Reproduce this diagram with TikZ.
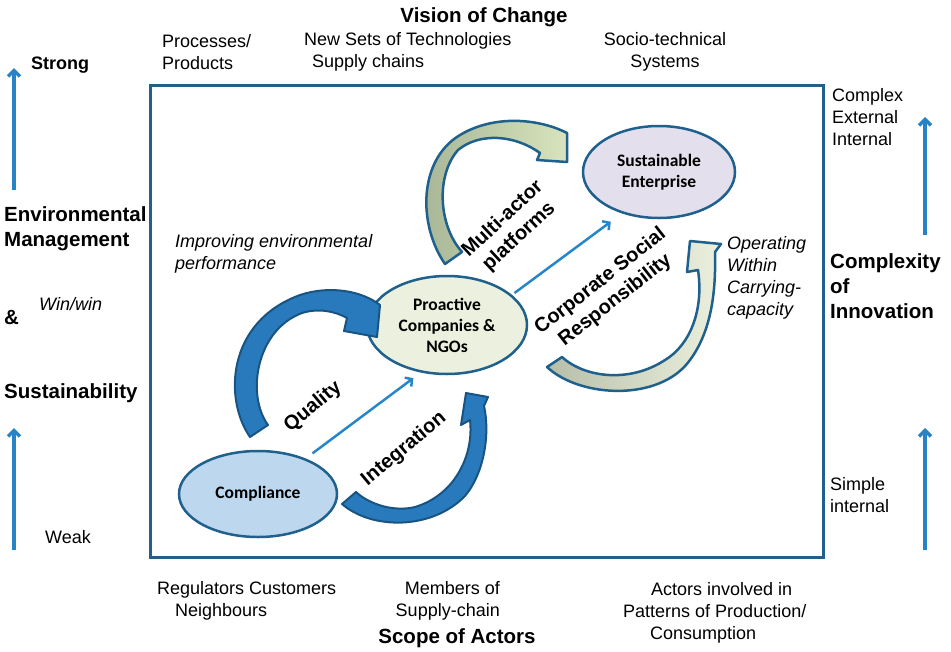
\documentclass[tikz,border=0pt]{standalone}
\usepackage{fontspec}
\setmainfont{Liberation Sans}
\newfontfamily\calibri{Carlito}
\usetikzlibrary{positioning,arrows.meta,shapes.geometric}

\definecolor{framecol}{RGB}{31,96,141}
\definecolor{axiscol}{RGB}{40,130,195}
\definecolor{linkcol}{RGB}{38,134,200}
\definecolor{bluefill}{RGB}{40,122,188}
\definecolor{blueline}{RGB}{24,84,130}
\definecolor{compfill}{RGB}{189,215,238}
\definecolor{profill}{RGB}{235,241,222}
\definecolor{susfill}{RGB}{228,223,236}
\definecolor{greenlight}{RGB}{215,228,189}
\definecolor{greendark}{RGB}{166,181,150}
\definecolor{csrlight}{RGB}{235,241,222}
\definecolor{csrdark}{RGB}{183,190,168}

\tikzset{
  txt/.style={inner sep=0pt, font=\fontsize{18}{22}\selectfont},
  itxt/.style={inner sep=0pt, font=\itshape\fontsize{18}{22}\selectfont},
  btxt/.style={inner sep=0pt, font=\bfseries\fontsize{18}{22}\selectfont},
  head/.style={inner sep=0pt, font=\bfseries\fontsize{20.5}{25}\selectfont},
  rot/.style={inner sep=0pt, font=\bfseries\fontsize{20}{24}\selectfont},
  state/.style={ellipse, draw=framecol, line width=2.5pt, align=center,
    inner sep=0pt, font=\calibri\bfseries\fontsize{17.5}{21}\selectfont},
  frame/.style={draw=framecol, line width=3pt},
  axis/.style={draw=axiscol, line width=3.5pt, -{Straight Barb[length=6pt,width=12pt]}},
  link/.style={draw=linkcol, line width=2.5pt, -{Straight Barb[length=5pt,width=11pt]}},
  bluearrow/.style={fill=bluefill, draw=blueline, line width=2pt, line join=round},
  greenarrow/.style={left color=greendark, right color=greenlight, draw=framecol,
    line width=2.5pt, line join=round},
  csrarrow/.style={left color=csrdark, right color=csrlight, draw=framecol,
    line width=2.5pt, line join=round}
}

\begin{document}
\begin{tikzpicture}[x=1pt,y=-1pt]
  \useasboundingbox (0,0) rectangle (951,651);

  % The frame
  \draw[frame] (150,85) rectangle (823,557);

  % Add the states
  \node[state, fill=compfill, minimum width=158pt, minimum height=86pt] (comp) at (258,494) {Compliance};
  \node[state, fill=profill, minimum width=160pt, minimum height=98pt] (pro) at (447,325) {Proactive\\Companies \&\\NGOs};
  \node[state, fill=susfill, minimum width=152pt, minimum height=92pt] (sus) at (659,172) {Sustainable\\Enterprise};

  % Connect the states with arrows
  \draw[link, shorten <=68pt, shorten >=42pt] (comp.center) -- ([yshift=-28pt]pro.center);
  \draw[link, shorten <=84pt, shorten >=60pt] ([yshift=-18pt]pro.center) -- ([yshift=-14pt]sus.center);

  % Curved block arrows
  \draw[bluearrow] (250,437) .. controls (224,400) and (226,322) .. (300,295)
    .. controls (330,285) and (362,291) .. (380,305)
    -- (377,337) -- (344,331) -- (347,318)
    .. controls (335,311) and (318,308) .. (302,313)
    .. controls (256,330) and (246,395) .. (268,425) -- cycle;
  \draw[bluearrow] (342,504) .. controls (372,530) and (432,530) .. (465,496)
    .. controls (485,472) and (490,432) .. (484,406)
    -- (488,397) -- (466,393) -- (461,425) -- (470,420)
    .. controls (474,455) and (455,495) .. (415,507)
    .. controls (395,512) and (370,505) .. (356,492) -- cycle;
  \draw[greenarrow] (445,264) .. controls (418,225) and (418,160) .. (460,135)
    .. controls (495,114) and (540,119) .. (567,133)
    -- (567,162) -- (537,160) -- (540,153)
    .. controls (515,135) and (480,132) .. (458,150)
    .. controls (436,175) and (438,225) .. (462,252) -- cycle;
  \draw[csrarrow] (547,367) .. controls (580,398) and (660,402) .. (690,360)
    .. controls (712,330) and (716,290) .. (715,252)
    -- (721,244) -- (690,241) -- (687,272) -- (698,270)
    .. controls (704,310) and (690,345) .. (665,360)
    .. controls (630,383) and (585,378) .. (562,357) -- cycle;

  % Labels on the arrows
  \node[rot, rotate=40] (qual) at (313,407) {Quality};
  \node[rot, rotate=40] (integ) at (404,449) {Integration};
  \node[rot, rotate=43, align=center] (multi) at (511,228) {Multi-actor\\platforms};
  \node[rot, rotate=38, align=center] (csr) at (608,291) {Corporate Social\\Responsibility};

  % Texts inside the frame
  \node[itxt, anchor=west, align=left] (improv) at (175,254) {Improving environmental\\performance};
  \node[itxt, anchor=west, align=left] (operat) at (727,278) {Operating\\Within\\Carrying-\\capacity};

  % Top
  \node[head] (vision) at (484,17) {Vision of Change};
  \node[txt, anchor=west, align=left] (procs) at (162,52) {Processes/\\Products};
  \node[txt, anchor=west, align=left] (techs) at (304,52) {New Sets of Technologies\\\hspace*{8pt}Supply chains};
  \node[txt, align=center] (socio) at (665,52) {Socio-technical\\Systems};

  % Left side
  \node[btxt, anchor=west] (strong) at (31,65) {Strong};
  \node[head, anchor=west, align=left] (envman) at (4,229) {Environmental\\Management};
  \node[head, anchor=west] (amp) at (4,318) {\&};
  \node[itxt, anchor=west] (winwin) at (39,304) {Win/win};
  \node[head, anchor=west] (sust) at (4,393) {Sustainability};
  \node[txt, anchor=west] (weak) at (45,537) {Weak};
  \coordinate (envlo) at (14,190);
  \coordinate (envhi) at (14,68);
  \coordinate (sustlo) at (14,550);
  \coordinate (susthi) at (14,428);
  \draw[axis] (envlo) -- (envhi);
  \draw[axis] (sustlo) -- (susthi);

  % Right side
  \node[txt, anchor=west, align=left] (cplx) at (832,117) {Complex\\External\\Internal};
  \node[head, anchor=west, align=left] (cinn) at (830,286) {Complexity\\of\\Innovation};
  \node[txt, anchor=west, align=left] (simple) at (830,495) {Simple\\internal};
  \coordinate (cinnlo) at (925,235);
  \coordinate (cinnhi) at (925,117);
  \coordinate (simplo) at (925,550);
  \coordinate (simphi) at (925,428);
  \draw[axis] (cinnlo) -- (cinnhi);
  \draw[axis] (simplo) -- (simphi);

  % Bottom
  \node[txt, anchor=west, align=left] (regs) at (157,601) {Regulators Customers\\\hspace*{18pt}Neighbours};
  \node[txt, anchor=east, align=right] (members) at (500,601) {Members of\\Supply-chain};
  \node[head] (scope) at (457,638) {Scope of Actors};
  \node[txt, anchor=west, align=left] (actors) at (623,613) {\hspace*{28pt}Actors involved in\\Patterns of Production/\\\hspace*{27pt}Consumption};

\end{tikzpicture}
\end{document}
